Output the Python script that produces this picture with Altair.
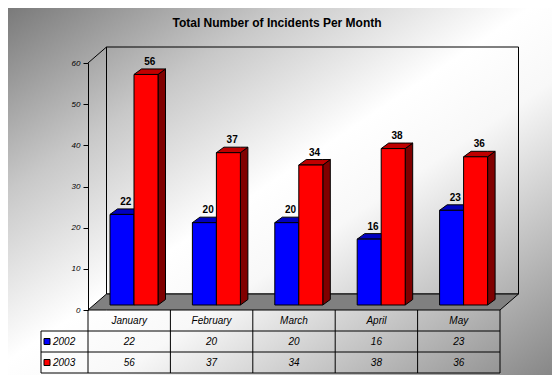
import altair as alt
import pandas as pd

# ---------------- data ----------------
months = ["January", "February", "March", "April", "May"]
series = ["2002", "2003"]
values_2002 = [22, 20, 20, 16, 23]
values_2003 = [56, 37, 34, 38, 36]
y_ticks = [0, 10, 20, 30, 40, 50, 60]
title_text = "Total Number of Incidents Per Month"

# ---------------- style / layout ----------------
FRONT = {"2002": "#0000FF", "2003": "#FF0000"}
TOPC = {"2002": "#0000C0", "2003": "#C00000"}
SIDEC = {"2002": "#000080", "2003": "#800000"}
FONT = "Liberation Sans"

W, H = 412, 247
PAD = {"left": 80, "top": 55, "right": 52, "bottom": 65}
N = len(months)
COL = W / N            # px per month
PPU = H / 60.0         # px per value unit
BAR_OFF_PX = [22, 46]
BAR_W_PX = 24
DX_PX, DY_PX = 7.5, 5.5      # bar depth
LIFT_PX = 5                  # bars stand slightly back on the floor
DEPTH_X, DEPTH_Y = 18.5, 16  # wall / floor depth
ROW_H = 21
TABLE_TOP = H


def ux(px):
    return px / COL


def uy(px):
    return px / PPU


# ---------------- build tables ----------------
fronts, faces, labels = [], [], []
for s_i, (s, vals) in enumerate(zip(series, [values_2002, values_2003])):
    for m_i, v in enumerate(vals):
        xl = m_i + ux(BAR_OFF_PX[s_i])
        xr = xl + ux(BAR_W_PX)
        base = uy(LIFT_PX)
        top = v + base
        dx, dy = ux(DX_PX), uy(DY_PX)
        bid = f"{s}-{m_i}"
        fronts.append(dict(xl=xl, xr=xr, base=base, top=top, fill=FRONT[s]))
        for (x, y, y2) in [(xr, top, base), (xr + dx, top + dy, base + dy)]:
            faces.append(dict(face=bid + "-side", x=x, y=y, y2=y2, fill=SIDEC[s]))
        for (x, y, y2) in [(xl, top, top), (xl + dx, top + dy, top),
                           (xr, top + dy, top), (xr + dx, top + dy, top + dy)]:
            faces.append(dict(face=bid + "-top", x=x, y=y, y2=y2, fill=TOPC[s]))
        labels.append(dict(x=(xl + xr) / 2 + dx / 2, y=top + dy, text=str(v)))

fronts = pd.DataFrame(fronts)
faces = pd.DataFrame(faces)
labels = pd.DataFrame(labels)

fx, fy = ux(DEPTH_X), uy(DEPTH_Y)
floor = pd.DataFrame(dict(x=[0, fx, N, N + fx], y=[0, fy, fy, fy], y2=[0, 0, 0, fy]))

table_rows = ["hdr"] + series
table_text = []
for m_i, m in enumerate(months):
    table_text.append(dict(x=m_i + 0.5, row="hdr", text=m))
    table_text.append(dict(x=m_i + 0.5, row="2002", text=str(values_2002[m_i])))
    table_text.append(dict(x=m_i + 0.5, row="2003", text=str(values_2003[m_i])))
table_text = pd.DataFrame(table_text)
legend_df = pd.DataFrame(dict(row=series, fill=[FRONT[s] for s in series]))
vlines = pd.DataFrame(dict(x=list(range(N + 1))))
hlines = pd.DataFrame(dict(py=[TABLE_TOP + ROW_H, TABLE_TOP + 2 * ROW_H, TABLE_TOP + 3 * ROW_H]))

# ---------------- scales ----------------
XS = alt.Scale(domain=[0, N], nice=False, zero=False)
YS = alt.Scale(domain=[0, 60], nice=False)
YAX = alt.Axis(values=y_ticks, title=None, grid=False, domainColor="black", tickColor="black",
               tickSize=5, labelFontSize=8, labelFontStyle="italic", labelFont=FONT,
               labelColor="black", labelPadding=3, zindex=1)
YT = alt.Scale(domain=table_rows, range=[TABLE_TOP, TABLE_TOP + 3 * ROW_H], paddingInner=0, paddingOuter=0)

one = alt.Data(values=[{"a": 1}])

bg = alt.Chart(one).mark_rect(
    fill=alt.LinearGradient(
        gradient="linear", x1=0, y1=0, x2=1, y2=1,
        stops=[alt.GradientStop(color="#7a7a7a", offset=0),
               alt.GradientStop(color="#c8c8c8", offset=0.25),
               alt.GradientStop(color="#ffffff", offset=0.48),
               alt.GradientStop(color="#f8f8f8", offset=0.6),
               alt.GradientStop(color="#c0c0c0", offset=0.8),
               alt.GradientStop(color="#878787", offset=1)])
).encode(x=alt.value(-PAD["left"]), x2=alt.value(W + PAD["right"]),
         y=alt.value(-PAD["top"]), y2=alt.value(H + PAD["bottom"]))

title = alt.Chart(one).mark_text(text=title_text, font=FONT, fontSize=12, fontWeight="bold",
                                 color="black", align="center", baseline="middle").encode(
    x=alt.value(189), y=alt.value(-40))

wall = alt.Chart(one).mark_rect(fill="transparent", stroke="black", strokeWidth=1).encode(
    x=alt.value(DEPTH_X), x2=alt.value(W + DEPTH_X), y=alt.value(-DEPTH_Y), y2=alt.value(H - DEPTH_Y))

diag = alt.Chart(one).mark_rule(color="black", strokeWidth=1).encode(
    x=alt.value(0), y=alt.value(0), x2=alt.value(DEPTH_X), y2=alt.value(-DEPTH_Y))

floor_l = alt.Chart(floor).mark_area(fill="#808080", stroke="black", strokeWidth=1, opacity=1).encode(
    x=alt.X("x:Q", scale=XS, axis=None),
    y=alt.Y("y:Q", scale=YS, axis=YAX, title=None),
    y2="y2:Q")

faces_l = alt.Chart(faces).mark_area(stroke="black", strokeWidth=1, opacity=1).encode(
    x=alt.X("x:Q", scale=XS, axis=None),
    y=alt.Y("y:Q", scale=YS, axis=YAX, title=None),
    y2="y2:Q",
    fill=alt.Fill("fill:N", scale=None),
    detail="face:N")

fronts_l = alt.Chart(fronts).mark_rect(stroke="black", strokeWidth=1).encode(
    x=alt.X("xl:Q", scale=XS, axis=None), x2="xr:Q",
    y=alt.Y("top:Q", scale=YS, axis=YAX, title=None), y2="base:Q",
    fill=alt.Fill("fill:N", scale=None))

labels_l = alt.Chart(labels).mark_text(font=FONT, fontSize=10, fontWeight="bold", color="black",
                                        baseline="alphabetic", align="center", dy=-4).encode(
    x=alt.X("x:Q", scale=XS, axis=None),
    y=alt.Y("y:Q", scale=YS, axis=YAX, title=None),
    text="text:N")

plot = alt.layer(bg, title, wall, diag, floor_l, faces_l, fronts_l, labels_l)

# ---------------- data table ----------------
vl = alt.Chart(vlines).mark_rule(color="black").encode(
    x=alt.X("x:Q", scale=XS, axis=None),
    y=alt.value(TABLE_TOP), y2=alt.value(TABLE_TOP + 3 * ROW_H))
vleft = alt.Chart(one).mark_rule(color="black").encode(
    x=alt.value(-47), y=alt.value(TABLE_TOP + ROW_H), y2=alt.value(TABLE_TOP + 3 * ROW_H))
hl = alt.Chart(hlines).mark_rule(color="black").encode(
    x=alt.value(-47), x2=alt.value(W), y=alt.Y("py:Q", scale=None, axis=None))
ttext = alt.Chart(table_text).mark_text(font=FONT, fontSize=10, fontStyle="italic", color="black",
                                         align="center", baseline="middle").encode(
    x=alt.X("x:Q", scale=XS, axis=None),
    y=alt.Y("row:N", scale=YT, axis=None),
    text="text:N")
lsq = alt.Chart(legend_df).mark_square(size=36, opacity=1, stroke="black", strokeWidth=1).encode(
    x=alt.value(-41), y=alt.Y("row:N", scale=YT, axis=None),
    fill=alt.Fill("fill:N", scale=None))
ltxt = alt.Chart(legend_df).mark_text(font=FONT, fontSize=10, fontStyle="italic", color="black",
                                       align="left", baseline="middle").encode(
    x=alt.value(-35), y=alt.Y("row:N", scale=YT, axis=None), text="row:N")

table = alt.layer(vl, vleft, hl, ttext, lsq, ltxt)

chart = alt.layer(plot, table).resolve_scale(y="independent").properties(
    width=W, height=H, padding=PAD, autosize=alt.AutoSizeParams(type="none")
).configure_view(stroke=None).configure(background="white")

chart.save("out.html", embed_options={"renderer": "svg", "actions": False})
